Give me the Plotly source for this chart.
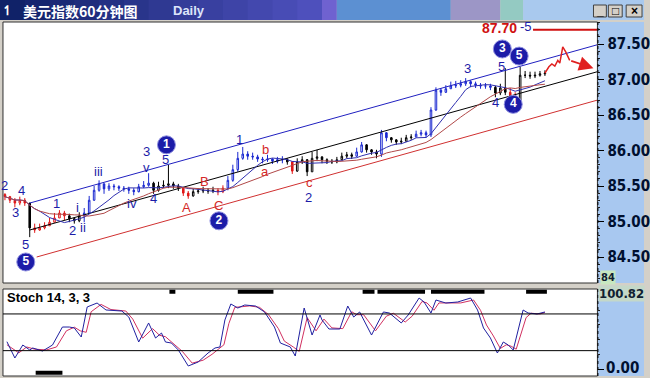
import plotly.graph_objects as go
import pandas as pd

W, H = 650, 378

# ---------------- data ----------------
bar_index = list(range(110))
first_open = 85.38
close = [85.35, 85.30, 85.26, 85.30, 85.26, 84.91, 84.88, 84.91, 84.94, 84.99,
         85.05, 85.12, 85.08, 85.04, 85.01, 85.08, 85.12, 85.30, 85.44, 85.53,
         85.46, 85.50, 85.49, 85.47, 85.46, 85.44, 85.42, 85.49, 85.51, 85.54,
         85.44, 85.50, 85.51, 85.53, 85.50, 85.47, 85.40, 85.36, 85.42, 85.43,
         85.44, 85.43, 85.44, 85.42, 85.47, 85.58, 85.73, 85.89, 85.95, 85.92,
         85.91, 85.88, 85.87, 85.88, 85.85, 85.87, 85.87, 85.84, 85.71, 85.84,
         85.87, 85.70, 85.89, 85.91, 85.87, 85.85, 85.84, 85.87, 85.92, 85.94,
         85.92, 85.98, 86.08, 86.01, 85.98, 85.95, 86.25, 86.18, 86.15, 86.12,
         86.13, 86.18, 86.19, 86.23, 86.25, 86.22, 86.57, 86.85, 86.82, 86.87,
         86.91, 86.92, 86.94, 86.97, 86.94, 86.92, 86.91, 86.91, 86.89, 86.81,
         86.88, 86.82, 86.75, 86.71, 87.06, 87.06, 87.05, 87.06, 87.08, 87.09]
high = [85.40, 85.36, 85.33, 85.35, 85.33, 85.26, 84.97, 84.97, 84.99, 85.05,
        85.12, 85.16, 85.15, 85.11, 85.06, 85.13, 85.19, 85.36, 85.50, 85.58,
        85.54, 85.54, 85.53, 85.51, 85.50, 85.49, 85.47, 85.53, 85.57, 85.68,
        85.56, 85.56, 85.58, 85.80, 85.56, 85.53, 85.47, 85.43, 85.46, 85.47,
        85.49, 85.47, 85.49, 85.47, 85.51, 85.64, 85.80, 85.98, 86.05, 85.99,
        85.97, 85.94, 85.91, 85.94, 85.89, 85.91, 85.92, 85.89, 85.85, 85.89,
        85.92, 85.88, 85.98, 86.01, 85.92, 85.89, 85.88, 85.91, 85.97, 85.98,
        85.97, 86.04, 86.12, 86.09, 86.02, 86.01, 86.29, 86.26, 86.19, 86.16,
        86.18, 86.22, 86.23, 86.28, 86.29, 86.28, 86.61, 86.89, 86.88, 86.92,
        86.97, 86.98, 86.99, 87.02, 86.99, 86.97, 86.95, 86.95, 86.94, 86.91,
        86.94, 87.16, 86.88, 86.82, 87.18, 87.12, 87.11, 87.11, 87.12, 87.13]
low = [85.30, 85.26, 85.20, 85.23, 85.22, 84.78, 84.84, 84.87, 84.89, 84.94,
       84.99, 85.05, 85.02, 84.99, 84.97, 84.99, 84.99, 85.11, 85.29, 85.42,
       85.39, 85.43, 85.44, 85.43, 85.42, 85.39, 85.37, 85.41, 85.47, 85.49,
       85.39, 85.42, 85.47, 85.47, 85.46, 85.43, 85.36, 85.32, 85.35, 85.39,
       85.40, 85.39, 85.40, 85.37, 85.40, 85.44, 85.56, 85.70, 85.87, 85.87,
       85.87, 85.84, 85.82, 85.84, 85.81, 85.82, 85.82, 85.80, 85.67, 85.70,
       85.81, 85.64, 85.70, 85.85, 85.82, 85.81, 85.81, 85.82, 85.86, 85.89,
       85.88, 85.91, 85.97, 85.97, 85.94, 85.89, 85.91, 86.13, 86.11, 86.08,
       86.09, 86.13, 86.15, 86.19, 86.20, 86.18, 86.19, 86.56, 86.77, 86.81,
       86.87, 86.88, 86.89, 86.91, 86.89, 86.88, 86.87, 86.87, 86.85, 86.75,
       86.78, 86.78, 86.70, 86.67, 86.70, 87.02, 87.01, 87.02, 87.04, 87.05]
# wave colour runs: (colour key, first bar, last bar)
color_runs = [("r", 0, 4), ("k", 5, 5), ("r", 6, 12), ("k", 13, 15), ("b", 16, 29),
              ("k", 30, 35), ("r", 36, 37), ("k", 38, 42), ("r", 43, 44), ("b", 45, 56),
              ("k", 57, 57), ("r", 58, 58), ("k", 59, 70), ("b", 71, 72), ("k", 73, 75),
              ("b", 76, 77), ("k", 78, 82), ("b", 83, 98), ("k", 99, 101), ("r", 102, 103),
              ("k", 104, 109)]
ma_fast_window = 8
ma_slow_window = 16

upper_channel_x = [5, 119.6]
upper_channel_y = [85.26, 87.49]
middle_channel_x = [5, 119.6]
middle_channel_y = [84.88, 87.11]
lower_channel_x = [6.4, 119.6]
lower_channel_y = [84.50, 86.71]

target_price = 87.70
target_x = [106.6, 119.6]

proj_x = [109, 109.8, 110.4, 111, 111.6, 112, 112.6, 113.2, 114]
proj_y = [87.09, 87.18, 87.22, 87.19, 87.27, 87.23, 87.46, 87.39, 87.27]
proj_arrow_end = (118.8, 87.16)

blue_labels = [("2", 0, 85.51), ("3", 2.2, 85.12), ("4", 3.4, 85.44), ("5", 4.2, 84.68),
               ("1", 10.4, 85.25), ("2", 13.6, 84.88), ("i", 14.6, 85.20), ("ii", 15.8, 84.91),
               ("iii", 18.8, 85.70), ("iv", 25.6, 85.26), ("v", 28.6, 85.76), ("3", 28.6, 85.98),
               ("4", 30.0, 85.32), ("5", 32.4, 85.87), ("1", 47.4, 86.15), ("2", 61.2, 85.34),
               ("3", 93.4, 87.15), ("4", 99.0, 86.68), ("5", 100.2, 87.19)]
red_labels = [("A", 36.6, 85.20), ("B", 40.2, 85.57), ("C", 43.2, 85.23),
              ("a", 52.4, 85.70), ("b", 52.6, 86.01), ("c", 61.4, 85.55)]
circle_labels = [("5", 4.2, 84.43), ("1", 32.6, 86.08), ("2", 43.2, 85.01),
                 ("3", 100.4, 87.43), ("5", 103.8, 87.33), ("4", 102.6, 86.65)]

stoch_k_x = [0.4, 2, 3.6, 5, 5.6, 7.6, 9.6, 11.6, 13, 14, 15.4, 16.6, 18.6, 20.4, 23.6, 25, 27, 29,
             30.4, 31.6, 32.4, 33.6, 35, 37, 39, 41, 42.4, 43.4, 44.4, 45.6, 47, 48.4, 50.6, 52.4,
             54.4, 55.6, 57.6, 58.6, 60.4, 62, 63.6, 64, 65.4, 67.6, 69.2, 70.4, 71.6, 74, 76.4,
             77.6, 80, 81.4, 83.6, 84.6, 86, 87, 89, 91.4, 94, 95.4, 96.6, 98, 99.4, 100.6, 101.6,
             102.6, 104.6, 105.6, 107.4, 109]
stoch_k = [37.2, 15.0, 32.7, 25.9, 28.6, 24.5, 32.7, 57.2, 57.2, 55.9, 43.6, 84.5, 89.9, 80.4,
           79.0, 70.8, 36.8, 62.7, 42.2, 49.0, 36.8, 35.4, 25.9, 4.1, 9.5, 21.8, 28.6, 30.0, 66.8,
           88.6, 83.1, 87.2, 85.8, 77.7, 57.2, 35.4, 30.0, 17.7, 83.1, 46.3, 73.6, 66.8, 54.5,
           54.5, 85.8, 70.8, 77.7, 46.3, 77.7, 76.3, 62.7, 73.6, 96.7, 91.3, 76.3, 94.0, 89.9,
           91.3, 96.7, 80.4, 55.9, 42.2, 21.8, 36.8, 32.7, 25.9, 80.4, 76.3, 74.9, 77.7]
stoch_d_x = [0.4, 2.8, 4.4, 6, 8.4, 10.4, 12.4, 14, 15.2, 16.4, 17.4, 19.4, 21.4, 24.4, 25.8, 27.8,
             29.8, 31.2, 32.4, 33.4, 34.4, 35.8, 37.8, 40, 41.8, 43, 44.2, 45.2, 46.4, 48, 49.4,
             51.4, 53.2, 55.2, 56.4, 58.2, 59.4, 61, 62.8, 64.4, 66, 68.2, 70, 71, 72.4, 74.8, 77,
             78.4, 80.8, 82.2, 84.2, 85.2, 86.6, 87.6, 89.6, 92, 94.6, 96, 97.2, 98.6, 100, 101.2,
             102.2, 103.2, 105.2, 106.2, 108, 109]
stoch_d = [33, 22, 30, 27, 26, 30, 52, 57, 52, 50, 78, 88, 81, 79, 68, 42, 55, 46, 44, 38, 33, 24,
           8, 12, 20, 27, 33, 62, 84, 85, 86, 84, 74, 55, 38, 30, 24, 70, 52, 68, 56, 55, 78, 74,
           74, 52, 72, 76, 64, 72, 92, 90, 80, 90, 90, 90, 94, 80, 60, 45, 28, 33, 31, 27, 70, 76,
           75, 77]
stoch_levels = [25, 75]
stoch_top_label = "100.82"
stoch_bottom_label = "0.00"
ob_segments = [(33.2, 34.4), (47, 54.2), (72.2, 74.6), (75.2, 84.8), (86, 96.8), (105.2, 109.4)]
os_segments = [(6.2, 11.6)]

# ---------------- styling ----------------
NAVY = "#1c1ca8"
CANDLE = {"r": "#e01818", "k": "#000000", "b": "#1a28d0"}
AXFONT = "Liberation Sans Narrow, DejaVu Sans Condensed, Arial Narrow, sans-serif"
SANS = "Liberation Sans, Arial, sans-serif"


def px(x):
    return x / W


def py(y):
    return 1 - y / H


X_DOM = [px(3), px(603)]
MAIN_DOM = [py(283), py(22)]
STO_DOM = [py(376), py(289)]

fig = go.Figure()

# channel lines
fig.add_trace(go.Scatter(x=upper_channel_x, y=upper_channel_y, mode="lines",
                         line=dict(color="#2020c0", width=1), hoverinfo="skip"))
fig.add_trace(go.Scatter(x=middle_channel_x, y=middle_channel_y, mode="lines",
                         line=dict(color="#000000", width=1), hoverinfo="skip"))
fig.add_trace(go.Scatter(x=lower_channel_x, y=lower_channel_y, mode="lines",
                         line=dict(color="#d03030", width=1), hoverinfo="skip"))

# moving averages
s = pd.Series(close)
ma_fast = s.rolling(ma_fast_window, min_periods=1).mean()
ma_slow = s.rolling(ma_slow_window, min_periods=1).mean()
fig.add_trace(go.Scatter(x=bar_index, y=ma_fast, mode="lines",
                         line=dict(color="#3030b0", width=1), hoverinfo="skip"))
fig.add_trace(go.Scatter(x=bar_index, y=ma_slow, mode="lines",
                         line=dict(color="#b04848", width=1), hoverinfo="skip"))

# candles grouped by wave colour
opens = [first_open] + close[:-1]
groups = {"r": [], "k": [], "b": []}
for key, a, b in color_runs:
    groups[key].extend(range(a, b + 1))
for key, idx in groups.items():
    c = CANDLE[key]
    fig.add_trace(go.Candlestick(
        x=[bar_index[i] for i in idx],
        open=[opens[i] for i in idx], high=[high[i] for i in idx],
        low=[low[i] for i in idx], close=[close[i] for i in idx],
        increasing=dict(line=dict(color=c, width=1), fillcolor="white"),
        decreasing=dict(line=dict(color=c, width=1), fillcolor=c),
        whiskerwidth=0, hoverinfo="skip"))

# target line and projection
fig.add_trace(go.Scatter(x=target_x, y=[target_price, target_price], mode="lines",
                         line=dict(color="#d01010", width=2), hoverinfo="skip"))
fig.add_trace(go.Scatter(x=proj_x, y=proj_y, mode="lines",
                         line=dict(color="#e02020", width=1.5), hoverinfo="skip"))

# circled wave labels
fig.add_trace(go.Scatter(
    x=[c[1] for c in circle_labels], y=[c[2] for c in circle_labels],
    mode="markers+text", text=[c[0] for c in circle_labels],
    textposition="middle center",
    textfont=dict(color="white", size=12, family=SANS, weight="bold"),
    marker=dict(size=18, color=NAVY, line=dict(color="#9090e0", width=1)),
    hoverinfo="skip", cliponaxis=False))

# stochastic
fig.add_trace(go.Scatter(x=stoch_d_x, y=stoch_d, mode="lines", xaxis="x2", yaxis="y2",
                         line=dict(color="#d03060", width=1), hoverinfo="skip"))
fig.add_trace(go.Scatter(x=stoch_k_x, y=stoch_k, mode="lines", xaxis="x2", yaxis="y2",
                         line=dict(color="#2020a0", width=1), hoverinfo="skip"))


def paper_text(x, y, text, font, xanchor="center", **kw):
    d = dict(x=px(x), y=py(y), xref="paper", yref="paper", text=text, showarrow=False,
             xanchor=xanchor, yanchor="middle", font=font)
    d.update(kw)
    return d


annotations = []
for t, x, y in blue_labels:
    annotations.append(dict(x=x, y=y, xref="x", yref="y", text=t, showarrow=False,
                            xanchor="center", yanchor="middle",
                            font=dict(color=NAVY, size=13, family=SANS)))
for t, x, y in red_labels:
    annotations.append(dict(x=x, y=y, xref="x", yref="y", text=t, showarrow=False,
                            xanchor="center", yanchor="middle",
                            font=dict(color="#d42828", size=13, family=SANS)))
annotations.append(dict(x=proj_arrow_end[0], y=proj_arrow_end[1], ax=proj_x[-1], ay=proj_y[-1],
                        xref="x", yref="y", axref="x", ayref="y", text="", showarrow=True,
                        arrowhead=2, arrowsize=1.6, arrowwidth=1.8, arrowcolor="#e02020"))
annotations.append(paper_text(504, 28, "87.70",
                              dict(color="#d01010", size=14, family=SANS, weight="bold")))
annotations.append(paper_text(531, 27, "-5", dict(color=NAVY, size=13, family=SANS)))

# title bar texts
annotations.append(paper_text(21, 10.5, "<b>美元指数60分钟图</b>",
                              dict(color="white", size=14, family="Noto Sans CJK SC"), xanchor="left"))
annotations.append(paper_text(173, 10.5, "<b>Daily</b>",
                              dict(color="#dde4fa", size=13, family=SANS), xanchor="left"))
annotations.append(paper_text(8, 11, "<b>↿</b>", dict(color="white", size=13, family=SANS)))
for t, cx in [("_", 605.5), ("□", 621), ("×", 640)]:
    annotations.append(paper_text(cx, 11, "<b>%s</b>" % t, dict(color="black", size=12, family=SANS)))

annotations.append(paper_text(5, 297.5, "<b>Stoch 14, 3, 3</b>",
                              dict(color="black", size=13, family=SANS), xanchor="left"))
annotations.append(paper_text(627, 293, "<b>%s</b>" % stoch_top_label,
                              dict(color="#102030", size=13, family=AXFONT),
                              bgcolor="#c4d8c8", borderpad=0))
annotations.append(paper_text(610, 368, "<b>%s</b>" % stoch_bottom_label,
                              dict(color="#001030", size=15, family=AXFONT), xanchor="left"))
annotations.append(paper_text(606, 277, "<b>84</b>",
                              dict(color="#102030", size=11, family=AXFONT), xanchor="left",
                              bgcolor="#c8e8c0", borderpad=0))

shapes = []
# title bar gradient
c0, c1 = (16, 34, 104), (78, 80, 188)
steps = 13
for k in range(steps):
    f = k / (steps - 1)
    col = "rgb(%d,%d,%d)" % tuple(int(c0[j] + (c1[j] - c0[j]) * f) for j in range(3))
    shapes.append(dict(type="rect", xref="paper", yref="paper", x0=px(k * 25), x1=px(k * 25 + 26),
                       y0=py(20), y1=py(0), fillcolor=col, line=dict(width=0), layer="below"))
for x0, x1, col in [(325, 340, "#6f62d0"), (340, 455, "#5c90d2"), (455, 505, "#9c96c6"),
                    (505, 528, "#94cac2"), (528, 650, "#a9c9ee")]:
    shapes.append(dict(type="rect", xref="paper", yref="paper", x0=px(x0), x1=px(x1),
                       y0=py(20), y1=py(0), fillcolor=col, line=dict(width=0), layer="below"))
for x0, x1 in [(599, 612), (614, 628), (632, 648)]:
    shapes.append(dict(type="rect", xref="paper", yref="paper", x0=px(x0), x1=px(x1),
                       y0=py(17), y1=py(5), fillcolor="#d4d0c8",
                       line=dict(color="#404040", width=1), layer="below"))
# right axis panels and panel frames
for y0, y1 in [(22, 283), (289, 376)]:
    shapes.append(dict(type="rect", xref="paper", yref="paper", x0=px(603), x1=px(650),
                       y0=py(y1), y1=py(y0), fillcolor="#a8c8f0", line=dict(width=0), layer="below"))
    shapes.append(dict(type="rect", xref="paper", yref="paper", x0=px(3), x1=px(603),
                       y0=py(y1), y1=py(y0), fillcolor="rgba(0,0,0,0)",
                       line=dict(color="#303030", width=1)))
    shapes.append(dict(type="line", xref="paper", yref="paper", x0=px(603.5), x1=px(603.5),
                       y0=py(y1), y1=py(y0), line=dict(color="#000000", width=1, dash="dot")))
# stoch levels and overbought/oversold markers
for lv in stoch_levels:
    shapes.append(dict(type="line", xref="paper", yref="y2", x0=px(3), x1=px(603), y0=lv, y1=lv,
                       line=dict(color="black", width=1)))
for a, b in ob_segments:
    shapes.append(dict(type="line", xref="x2", yref="y2", x0=a, x1=b, y0=105.3, y1=105.3,
                       line=dict(color="black", width=4)))
for a, b in os_segments:
    shapes.append(dict(type="line", xref="x2", yref="y2", x0=a, x1=b, y0=-5.0, y1=-5.0,
                       line=dict(color="black", width=4)))

fig.update_layout(
    width=W, height=H, autosize=False, margin=dict(l=0, r=0, t=0, b=0, pad=0),
    paper_bgcolor="#d4d0c8", plot_bgcolor="white", showlegend=False, boxgap=0.55,
    annotations=annotations, shapes=shapes,
    xaxis=dict(domain=X_DOM, range=[-0.4, 119.6], anchor="y", showticklabels=False,
               showgrid=False, zeroline=False, rangeslider=dict(visible=False), fixedrange=True),
    yaxis=dict(domain=MAIN_DOM, range=[84.134, 87.810], anchor="x", side="right",
               tickmode="linear", tick0=84.5, dtick=0.5, tickformat=".2f",
               ticks="outside", ticklen=6, tickcolor="black", showgrid=False, zeroline=False,
               tickfont=dict(family=AXFONT, size=15, color="#001030", weight="bold"),
               minor=dict(ticks="outside", ticklen=2, dtick=0.1, tickcolor="#202020"),
               fixedrange=True),
    xaxis2=dict(domain=X_DOM, range=[-0.4, 119.6], anchor="y2", showticklabels=False,
                showgrid=False, zeroline=False, fixedrange=True),
    yaxis2=dict(domain=STO_DOM, range=[-9.54, 109.0], anchor="x2", side="right",
                tickvals=[0], ticks="outside", ticklen=6, tickcolor="black",
                showticklabels=False, showgrid=False, zeroline=False,
                minor=dict(ticks="outside", ticklen=2, tickvals=[20, 40, 60, 80], tickcolor="#202020"),
                fixedrange=True),
)

fig.write_html("out.html", config={"displayModeBar": False})
